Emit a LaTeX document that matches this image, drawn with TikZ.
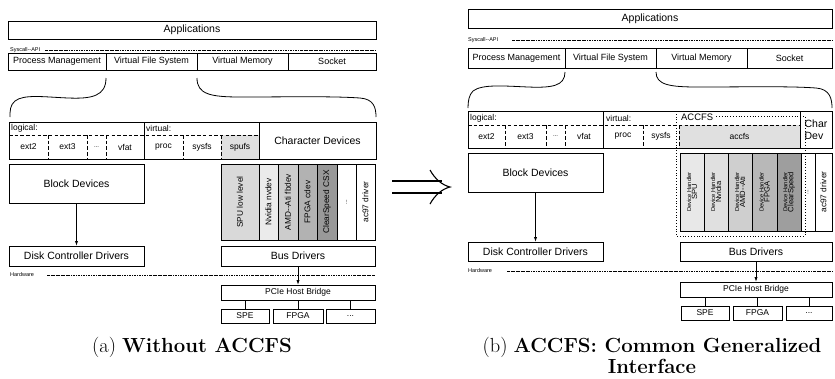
\documentclass[tikz,border=0pt]{standalone}
\usepackage{fontspec}
\newfontfamily\hv{Liberation Sans}
\usetikzlibrary{arrows.meta}
\newcommand{\mkbox}[7][]{\node[box,#1,minimum width={(#5-#3)*1pt},minimum height={(#6-#4)*1pt}] (#2) at ({(#3+#5)/2},{(#4+#6)/2}) {#7};}
\newcommand{\mkvbox}[7][]{\node[box,rotate=90,#1,minimum width={(#6-#4)*1pt},minimum height={(#5-#3)*1pt}] (#2) at ({(#3+#5)/2},{(#4+#6)/2}) {#7};}
\tikzset{
  box/.style={draw,line width=0.8pt,inner sep=0pt,outer sep=0pt,font=\hv\fontsize{9}{10}\selectfont},
  big/.style={font=\hv\fontsize{10.5}{12}\selectfont},
  smallt/.style={font=\hv\fontsize{8.5}{10}\selectfont},
  tinyt/.style={font=\hv\fontsize{5.5}{6}\selectfont,inner sep=0pt},
  coltxt/.style={font=\hv\fontsize{8.3}{9}\selectfont},
  dhtxt/.style={font=\hv\fontsize{5.8}{7}\selectfont,align=center},
  cell/.style={draw=none,font=\hv\fontsize{8.5}{10}\selectfont},
  dline/.style={line width=0.8pt,dash pattern=on 3.5pt off 2.2pt},
  sepline/.style={line width=0.5pt,dash pattern=on 2.5pt off 1pt on 0.6pt off 1pt},
  arr/.style={line width=0.8pt,-{Latex[length=5pt,width=3.2pt]}},
  wire/.style={line width=0.8pt},
  brace/.style={line width=0.8pt},
  acc/.style={line width=0.8pt,dotted},
  capt/.style={font=\fontsize{20.4}{21}\selectfont,align=center}
}
\begin{document}
\begin{tikzpicture}[x=1pt,y=-1pt]
\useasboundingbox (0,0) rectangle (835,378);
% ================= LEFT =================
\mkbox[big]{appL}{8}{21}{376}{39}{Applications}
\node[tinyt,anchor=west] (sysL) at (10,50) {Syscall--API};
\draw[sepline] (45,50) -- (375,50);
\mkbox{pmL}{8}{53}{106}{70}{Process Management}
\mkbox{vfsL}{106}{53}{197}{70}{Virtual File System}
\mkbox{vmL}{197}{53}{288}{70}{Virtual Memory}
\mkbox{sockL}{288}{53}{376}{70}{Socket}
\draw[brace] (106,78) .. controls (106,96) and (92,99) .. (68,98) .. controls (44,97) and (24,94) .. (15,101) .. controls (10,105) and (10,111) .. (10,117);
\draw[brace] (197,78) .. controls (197,94) and (210,97) .. (240,97) .. controls (290,97) and (330,96) .. (360,98) .. controls (374,99) and (376,108) .. (376,117);
% file systems
\mkbox[cell,fill=black!12]{spufsL}{221}{135}{259}{159}{spufs}
\mkbox{logL}{9}{122}{144}{159}{}
\mkbox{virL}{144}{122}{259}{159}{}
\mkbox[big]{chrL}{259}{122}{376}{159}{Character Devices}
\node[smallt,anchor=west,inner sep=0pt] at (11,128.5) {logical:};
\node[smallt,anchor=west,inner sep=0pt] at (146,128.5) {virtual:};
\mkbox[cell]{ext2L}{9}{135}{48}{159}{ext2}
\mkbox[cell]{ext3L}{48}{135}{87}{159}{ext3}
\mkbox[cell,font=\hv\fontsize{6}{7}\selectfont]{dotfL}{87}{135}{106}{159}{...}
\mkbox[cell]{vfatL}{106}{135}{144}{159}{vfat}
\mkbox[cell]{procL}{144}{135}{183}{159}{proc}
\mkbox[cell]{sysfsL}{183}{135}{221}{159}{sysfs}
\draw[dline] (ext2L.north west) -- (spufsL.north east);
\draw[dline] (ext2L.south west) -- (spufsL.south east);
\foreach \c in {ext2L,ext3L,dotfL,procL,sysfsL}{\draw[dline] (\c.north east) -- (\c.south east);}
% block side
\mkbox[big]{blkL}{9}{164}{144}{203}{Block Devices}
\mkbox[big]{dskL}{9}{246}{144}{266}{Disk Controller Drivers}
\draw[arr] (blkL.south) -- (dskL.north);
% char drivers
\mkvbox[coltxt,fill=black!15]{c1L}{221}{164}{259}{240}{SPU low level}
\mkvbox[coltxt,fill=black!8]{c2L}{259}{164}{278}{240}{Nvidia nvdev}
\mkvbox[coltxt,fill=black!20]{c3L}{278}{164}{298}{240}{AMD--Ati fbdev}
\mkvbox[coltxt,fill=black!30]{c4L}{298}{164}{317}{240}{FPGA cdev}
\mkvbox[coltxt,fill=black!40]{c5L}{317}{164}{337}{240}{ClearSpeed CSX}
\mkvbox[font=\hv\fontsize{6}{7}\selectfont]{c6L}{337}{164}{356}{240}{...}
\mkvbox[coltxt]{c7L}{356}{164}{375}{240}{ac97 driver}
\mkbox[big]{busL}{221}{246}{375}{266}{Bus Drivers}
\node[tinyt,anchor=west] (hwL) at (10,275) {Hardware};
\draw[sepline] (47,275) -- (375,275);
\mkbox[smallt]{pciL}{221}{285}{375}{300}{PCIe Host Bridge}
\draw[arr] (busL.south) -- (pciL.north);
\mkbox[smallt]{speL}{221}{309}{269}{323}{SPE}
\mkbox[smallt]{fpgL}{273}{309}{323}{323}{FPGA}
\mkbox[smallt]{dotL}{326}{309}{375}{323}{...}
\draw[wire] (pciL.south -| speL.north) -- (speL.north);
\draw[wire] (pciL.south -| fpgL.north) -- (fpgL.north);
\draw[wire] (pciL.south -| dotL.north) -- (dotL.north);
\node[capt] (capA) at (192,347) {(a) \textbf{Without ACCFS}};
% ================= BIG ARROW =================
\draw[line width=1.1pt] (392,181) -- (442,181);
\draw[line width=1.1pt] (392,193) -- (442,193);
\draw[line width=1.1pt] (430,170) .. controls (435,179) and (442,185) .. (450,187) .. controls (442,189) and (435,195) .. (430,204);
% ================= RIGHT =================
\mkbox[big]{appR}{468}{9}{832}{28}{Applications}
\node[tinyt,anchor=west] (sysR) at (468,40) {Syscall--API};
\draw[sepline] (512,40) -- (832,40);
\mkbox{pmR}{468}{48}{565}{68}{Process Management}
\mkbox{vfsR}{565}{48}{656}{68}{Virtual File System}
\mkbox{vmR}{656}{48}{747}{68}{Virtual Memory}
\mkbox{sockR}{747}{48}{832}{68}{Socket}
\draw[brace] (565,72) .. controls (565,86) and (552,88) .. (528,87) .. controls (504,86) and (482,84) .. (473,91) .. controls (469,95) and (468,101) .. (468,108);
\draw[brace] (656,72) .. controls (656,85) and (670,87) .. (698,87) .. controls (748,87) and (788,86) .. (816,88) .. controls (830,89) and (832,99) .. (832,108);
% file systems
\mkbox[cell,fill=black!12]{accfsR}{679}{125}{800}{148}{accfs}
\mkbox{logR}{468}{111}{603}{148}{}
\mkbox{virR}{603}{111}{800}{148}{}
\mkbox[big,align=left]{chrR}{800}{111}{832}{148}{Char\\[-0.5pt]Dev}
\node[smallt,anchor=west,inner sep=0pt] at (470,118) {logical:};
\node[smallt,anchor=west,inner sep=0pt] at (606,118) {virtual:};
\mkbox[cell]{ext2R}{468}{125}{505}{148}{ext2}
\mkbox[cell]{ext3R}{505}{125}{546}{148}{ext3}
\mkbox[cell,font=\hv\fontsize{6}{7}\selectfont]{dotfR}{546}{125}{565}{148}{...}
\mkbox[cell]{vfatR}{565}{125}{603}{148}{vfat}
\mkbox[cell]{procR}{603}{125}{643}{148}{proc}
\mkbox[cell]{sysfsR}{643}{125}{679}{148}{sysfs}
\draw[dline] (ext2R.north west) -- (accfsR.north east);
\draw[dline] (ext2R.south west) -- (accfsR.south east);
\foreach \c in {ext2R,ext3R,dotfR,procR,sysfsR}{\draw[dline] (\c.north east) -- (\c.south east);}
% block side
\mkbox[big]{blkR}{468}{153}{603}{192}{Block Devices}
\mkbox[big]{dskR}{468}{242}{603}{261}{Disk Controller Drivers}
\draw[arr] (blkR.south) -- (dskR.north);
% device handlers
\mkvbox[dhtxt,fill=black!9]{d1R}{680}{153}{704}{231}{Device Handler\\[-1pt]{\fontsize{7.6}{8}\selectfont SPU}}
\mkvbox[dhtxt,fill=black!12]{d2R}{704}{153}{728}{231}{Device Handler\\[-1pt]{\fontsize{7.6}{8}\selectfont Nvidia}}
\mkvbox[dhtxt,fill=black!19]{d3R}{728}{153}{752}{231}{Device Handler\\[-1pt]{\fontsize{7.6}{8}\selectfont AMD--Ati}}
\mkvbox[dhtxt,fill=black!28]{d4R}{752}{153}{777}{231}{Device Handler\\[-1pt]{\fontsize{7.6}{8}\selectfont FPGA}}
\mkvbox[dhtxt,fill=black!38]{d5R}{777}{153}{801}{231}{Device Handler\\[-1pt]{\fontsize{7.6}{8}\selectfont ClearSpeed}}
\mkvbox[font=\hv\fontsize{6}{7}\selectfont]{d6R}{801}{153}{815}{231}{...}
\mkvbox[coltxt]{d7R}{815}{153}{832}{231}{ac97 driver}
% ACCFS region
\node[font=\hv\fontsize{9.4}{10}\selectfont,anchor=west,inner sep=0pt] (accR) at (681,117) {ACCFS};
\draw[acc] ([xshift=3pt]accR.east |- 0,116) -- (805,116) -- (805,236) -- (676,236) -- (676,113);
\mkbox[big]{busR}{680}{242}{832}{261}{Bus Drivers}
\node[tinyt,anchor=west] (hwR) at (468,271) {Hardware};
\draw[sepline] (507,271) -- (832,271);
\mkbox[smallt]{pciR}{680}{282}{832}{297}{PCIe Host Bridge}
\draw[arr] (busR.south) -- (pciR.north);
\mkbox[smallt]{speR}{681}{306}{729}{320}{SPE}
\mkbox[smallt]{fpgR}{733}{306}{782}{320}{FPGA}
\mkbox[smallt]{dotR}{786}{306}{832}{320}{...}
\draw[wire] (pciR.south -| speR.north) -- (speR.north);
\draw[wire] (pciR.south -| fpgR.north) -- (fpgR.north);
\draw[wire] (pciR.south -| dotR.north) -- (dotR.north);
\node[capt] (capB) at (652,355.5) {(b) \textbf{ACCFS: Common Generalized}\\\textbf{Interface}};
\end{tikzpicture}
\end{document}
